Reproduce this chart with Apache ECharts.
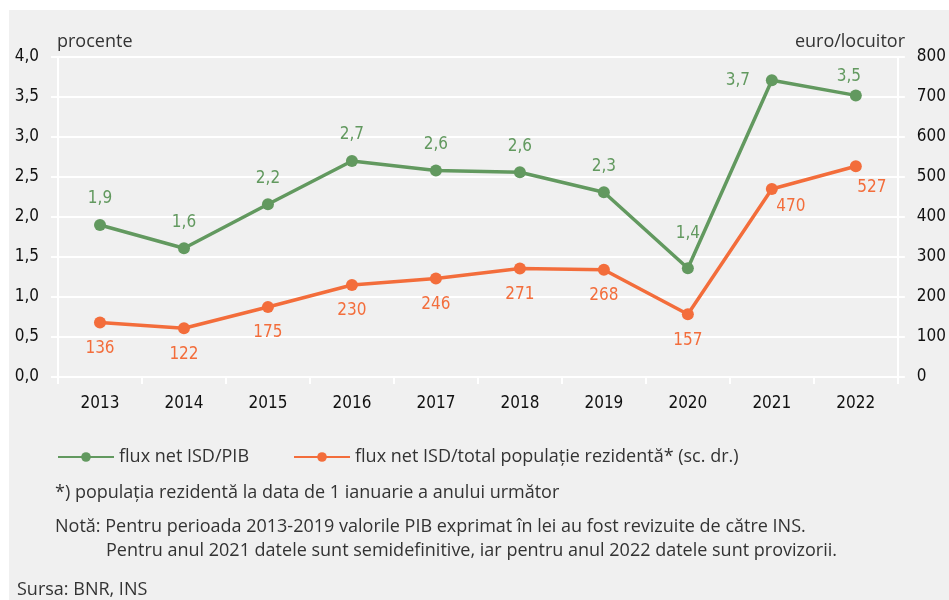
<!DOCTYPE html>
<html lang="ro">
<head>
<meta charset="UTF-8">
<title>Flux net ISD</title>
<style>
  html, body { margin: 0; padding: 0; background: #ffffff; }
  #chart { width: 949px; height: 600px; }
</style>
</head>
<body>
<div id="chart"></div>
<script src="https://cdn.jsdelivr.net/npm/echarts@6/dist/echarts.min.js"></script>
<script>
// data
const years = ['2013', '2014', '2015', '2016', '2017', '2018', '2019', '2020', '2021', '2022'];
const fluxPib = [1.9, 1.61, 2.16, 2.7, 2.58, 2.56, 2.31, 1.36, 3.71, 3.52];
const fluxLocuitor = [136, 122, 175, 230, 246, 271, 268, 157, 470, 527];
const seriesNames = ['flux net ISD/PIB', 'flux net ISD/total populaţie rezidentă* (sc. dr.)'];

const green = '#62995f';
const orange = '#f36d3b';
const numFont = '"DejaVu Sans Condensed", "Liberation Sans", sans-serif';
const textFont = '"Open Sans", "Noto Sans", sans-serif';

// label placement (centre offset from the point), a few moved by hand
const greenOffsets = { 7: [0, -35], 8: [-34, 0], 9: [-7, -19] };
const orangeOffsets = { 8: [19, 18], 9: [16, 21] };

function withLabels(values, offsets, def, fmt) {
  return values.map((v, i) => ({
    value: v,
    label: { offset: offsets[i] || def, formatter: fmt(v) }
  }));
}

const chart = echarts.init(document.getElementById('chart'));

const white = '#ffffff';
const yAxisBase = {
  type: 'value',
  axisLine: { show: true, lineStyle: { color: white, width: 2 } },
  axisTick: { show: true, length: 7, lineStyle: { color: white, width: 2 } },
  axisLabel: { fontFamily: numFont, fontSize: 17, color: '#111111', margin: 19 },
};

chart.setOption({
  backgroundColor: '#ffffff',
  animation: false,
  graphic: [
    { type: 'rect', left: 9, top: 10, z: -10, shape: { width: 940, height: 590 }, style: { fill: '#f0f0f0' } },
    { type: 'text', left: 57, top: 33, style: { text: 'procente', font: '18px ' + textFont, fill: '#333333' } },
    { type: 'text', right: 44, top: 33, style: { text: 'euro/locuitor', font: '18px ' + textFont, fill: '#333333' } },
    { type: 'text', left: 55, top: 484, style: { text: '*) populaţia rezidentă la data de 1 ianuarie a anului următor', font: '18px ' + textFont, fill: '#333333' } },
    { type: 'text', left: 55, top: 518, style: { text: 'Notă: Pentru perioada 2013-2019 valorile PIB exprimat în lei au fost revizuite de către INS.', font: '18px ' + textFont, fill: '#333333' } },
    { type: 'text', left: 106, top: 542, style: { text: 'Pentru anul 2021 datele sunt semidefinitive, iar pentru anul 2022 datele sunt provizorii.', font: '18px ' + textFont, fill: '#333333' } },
    { type: 'text', left: 17, top: 581, style: { text: 'Sursa: BNR, INS', font: '18px ' + textFont, fill: '#333333' } }
  ],
  grid: { left: 58, right: 42, top: 57, bottom: 223 },
  legend: {
    left: 52,
    top: 443,
    itemWidth: 56,
    itemHeight: 12,
    itemGap: 44,
    textStyle: { fontFamily: textFont, fontSize: 18, color: '#333333' },
    data: seriesNames
  },
  xAxis: {
    type: 'category',
    data: years,
    boundaryGap: true,
    axisLine: { lineStyle: { color: white, width: 2 } },
    axisTick: { show: true, length: 7, lineStyle: { color: white, width: 2 } },
    axisLabel: { fontFamily: numFont, fontSize: 17, color: '#111111', margin: 18 },
    splitLine: { show: false }
  },
  yAxis: [
    Object.assign({}, yAxisBase, {
      position: 'left', min: 0, max: 4, interval: 0.5,
      axisLabel: Object.assign({}, yAxisBase.axisLabel, { formatter: v => v.toFixed(1).replace('.', ',') }),
      splitLine: { show: true, lineStyle: { color: white, width: 2 } }
    }),
    Object.assign({}, yAxisBase, {
      position: 'right', min: 0, max: 800, interval: 100,
      splitLine: { show: false }
    })
  ],
  series: [
    {
      name: seriesNames[0],
      type: 'line',
      yAxisIndex: 0,
      symbol: 'circle',
      symbolSize: 12,
      itemStyle: { color: green },
      lineStyle: { color: green, width: 3.5 },
      label: { show: true, position: 'inside', fontFamily: numFont, fontSize: 17, color: green },
      data: withLabels(fluxPib, greenOffsets, [0, -26], v => v.toFixed(1).replace('.', ','))
    },
    {
      name: seriesNames[1],
      type: 'line',
      yAxisIndex: 1,
      symbol: 'circle',
      symbolSize: 12,
      itemStyle: { color: orange },
      lineStyle: { color: orange, width: 3.5 },
      label: { show: true, position: 'inside', fontFamily: numFont, fontSize: 17, color: orange },
      data: withLabels(fluxLocuitor, orangeOffsets, [0, 26], v => String(v))
    }
  ]
});
</script>
</body>
</html>
